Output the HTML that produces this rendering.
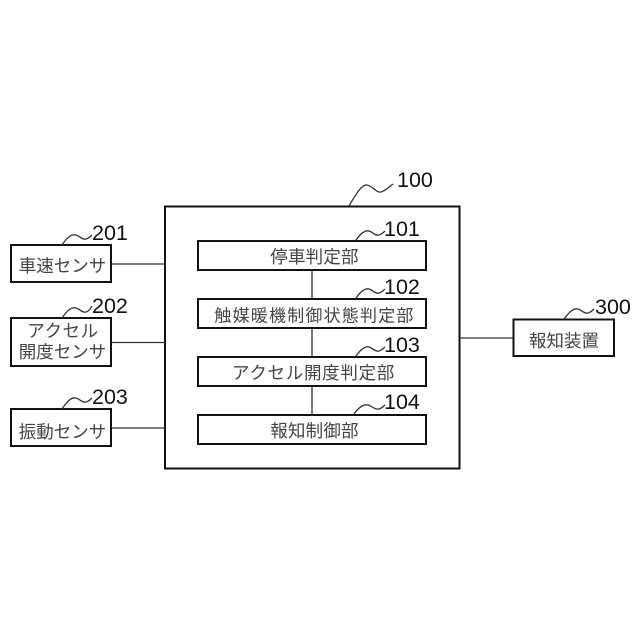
<!DOCTYPE html>
<html><head><meta charset="utf-8">
<style>
html,body{margin:0;padding:0;background:#fff;width:640px;height:640px;overflow:hidden}
svg{display:block}
.t{font-family:"Liberation Sans","Noto Sans CJK JP",sans-serif;font-size:17.5px;fill:#444;text-anchor:middle}
.n{font-family:"Liberation Sans",sans-serif;font-size:21.5px;fill:#111}
.b{fill:#fff;stroke:#111;stroke-width:2}
.l{fill:none;stroke:#333;stroke-width:1.3}
</style></head><body>
<svg width="640" height="640" viewBox="0 0 640 640" xmlns="http://www.w3.org/2000/svg">
<rect class="b" x="165" y="206.5" width="294.5" height="262"/>
<path class="l" d="M111 264H165M111 342.500H165M111 428H165M460 338H513M312 270V299M312 328V357M312 386V415"/>
<rect class="b" x="198" y="241" width="228" height="29"/>
<rect class="b" x="198" y="299" width="228" height="29"/>
<rect class="b" x="198" y="357" width="228" height="29"/>
<rect class="b" x="198" y="415" width="228" height="29"/>
<rect class="b" x="11" y="245" width="100" height="37"/>
<rect class="b" x="11" y="318" width="100" height="48"/>
<rect class="b" x="11" y="409" width="100" height="37"/>
<rect class="b" x="513.500" y="319.500" width="100.500" height="36.500"/>
<g class="l">
<path d="M62 245C68 236 72 234 76 235C80 236 82 240 86 239C88 238.500 90 237 92 235"/>
<path d="M62 318C68 309 72 307 76 308C80 309 82 313 86 312C88 311.500 90 310 92 306"/>
<path d="M62 409C68 400 72 397 76 398C80 399 82 403 86 402C88 401.500 90 400 92 398"/>
<path d="M349 206C356 194 362 184 367 185C373 186 376 193 381 192C385 191 389 187 393 184"/>
<path d="M356 240C361 233 365 230 369 231C373 232 375 236 379 235C381 234.500 383 233 385 231"/>
<path d="M356 298C361 291 365 288 369 289C373 290 375 294 379 293C381 292.500 383 291 385 289"/>
<path d="M356 356C361 349 365 346 369 347C373 348 375 352 379 351C381 350.500 383 349 385 347"/>
<path d="M354 414C359 407 364 404 368 405C372 406 375 410 379 409C381 408.500 383 407 385 405"/>
<path d="M564 319C570 311 574 308 578 309C582 310 584 314 588 313C590 312.500 592 311 594 309"/>
</g>
<text class="n" x="92" y="240">201</text>
<text class="n" x="92" y="313">202</text>
<text class="n" x="92" y="404">203</text>
<text class="n" x="397" y="187">100</text>
<text class="n" x="384" y="236">101</text>
<text class="n" x="384" y="294">102</text>
<text class="n" x="384" y="352">103</text>
<text class="n" x="384" y="409">104</text>
<text class="n" x="595" y="314">300</text>
<text class="t" x="62.500" y="272">車速センサ</text>
<text class="t" x="63" y="337" letter-spacing="0.6">アクセル</text>
<text class="t" x="62.500" y="358">開度センサ</text>
<text class="t" x="62.500" y="438">振動センサ</text>
<text class="t" x="314.500" y="263" letter-spacing="0.2">停車判定部</text>
<text class="t" x="314.500" y="321.500" style="font-size:17px" letter-spacing="1.2">触媒暖機制御状態判定部</text>
<text class="t" x="313.500" y="379" letter-spacing="0.7">アクセル開度判定部</text>
<text class="t" x="314.500" y="437" letter-spacing="0.2">報知制御部</text>
<text class="t" x="564" y="347" style="font-size:17.5px">報知装置</text>
</svg>
</body></html>
